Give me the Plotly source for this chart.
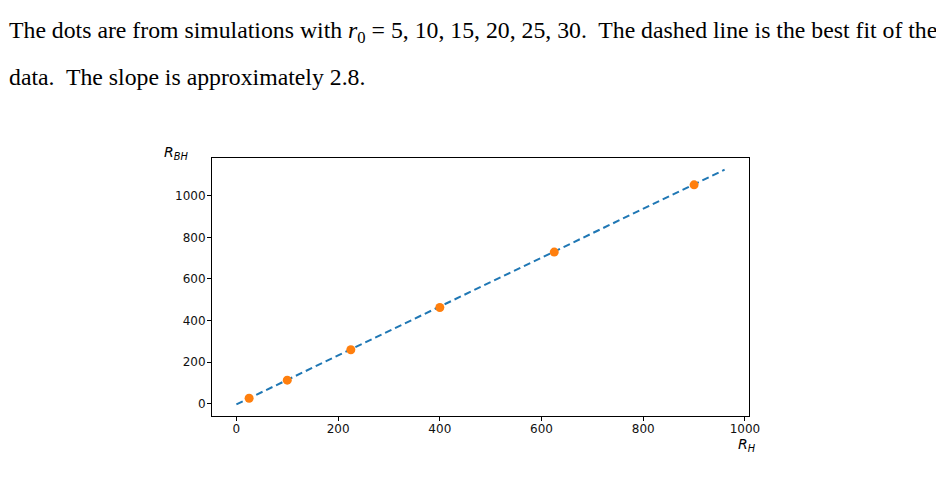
import plotly.graph_objects as go

# simulation points: R_H = r0^2 for r0 = 5..30, R_BH
r_h = [25, 100, 225, 400, 625, 900]
r_bh = [27, 114, 260, 463, 729, 1052]

# best fit line endpoints (dashed)
fit_x = [0, 960]
fit_y = [-2, 1125]

x_ticks = [0, 200, 400, 600, 800, 1000]
y_ticks = [0, 200, 400, 600, 800, 1000]

fig = go.Figure()
fig.add_trace(go.Scatter(x=fit_x, y=fit_y, mode='lines',
                         line=dict(color='#1f77b4', width=2, dash='7px,4px'),
                         showlegend=False))
fig.add_trace(go.Scatter(x=r_h, y=r_bh, mode='markers',
                         marker=dict(color='#ff7f0e', size=9),
                         showlegend=False))

axis_style = dict(showline=True, linecolor='black', linewidth=1, mirror=True,
                  ticks='outside', ticklen=4, tickcolor='black',
                  showgrid=False, zeroline=False,
                  tickfont=dict(family='DejaVu Sans', size=12, color='#111'))
fig.update_xaxes(range=[-48, 1008], tickvals=x_ticks, ticklabelstandoff=-2, **axis_style)
fig.update_yaxes(range=[-58, 1181], tickvals=y_ticks, ticklabelstandoff=-1, **axis_style)

# plot area in figure pixels: left 204, top 150, 537 x 258
W, H = 537, 258
text_font = dict(family='Liberation Serif', size=23.75, color='black')
fig.add_annotation(xref='paper', yref='paper', x=-205 / W, y=1 + (150 - 24) / H,
                   xanchor='left', yanchor='middle', showarrow=False, font=text_font,
                   text='The dots are from simulations with <i>r</i><sub>0</sub> = 5, 10, 15, 20, 25, 30.'
                        '  The dashed line is the best fit of the')
fig.add_annotation(xref='paper', yref='paper', x=-205 / W, y=1 + (150 - 69) / H,
                   xanchor='left', yanchor='middle', showarrow=False, font=text_font,
                   text='data.  The slope is approximately 2.8.')

label_font = dict(family='DejaVu Sans', size=14, color='black')
fig.add_annotation(xref='paper', yref='paper', x=-50 / W, y=1 + 5 / H,
                   xanchor='left', yanchor='middle', showarrow=False, font=label_font,
                   text='<i>R</i><sub><i>BH</i></sub>')
fig.add_annotation(xref='paper', yref='paper', x=1 + 9 / W, y=-29 / H,
                   xanchor='right', yanchor='middle', showarrow=False, font=label_font,
                   text='<i>R</i><sub><i>H</i></sub>')

fig.update_layout(width=944, height=501,
                  margin=dict(l=204, r=203, t=150, b=93),
                  plot_bgcolor='white', paper_bgcolor='white')
fig.write_html("out.html")
